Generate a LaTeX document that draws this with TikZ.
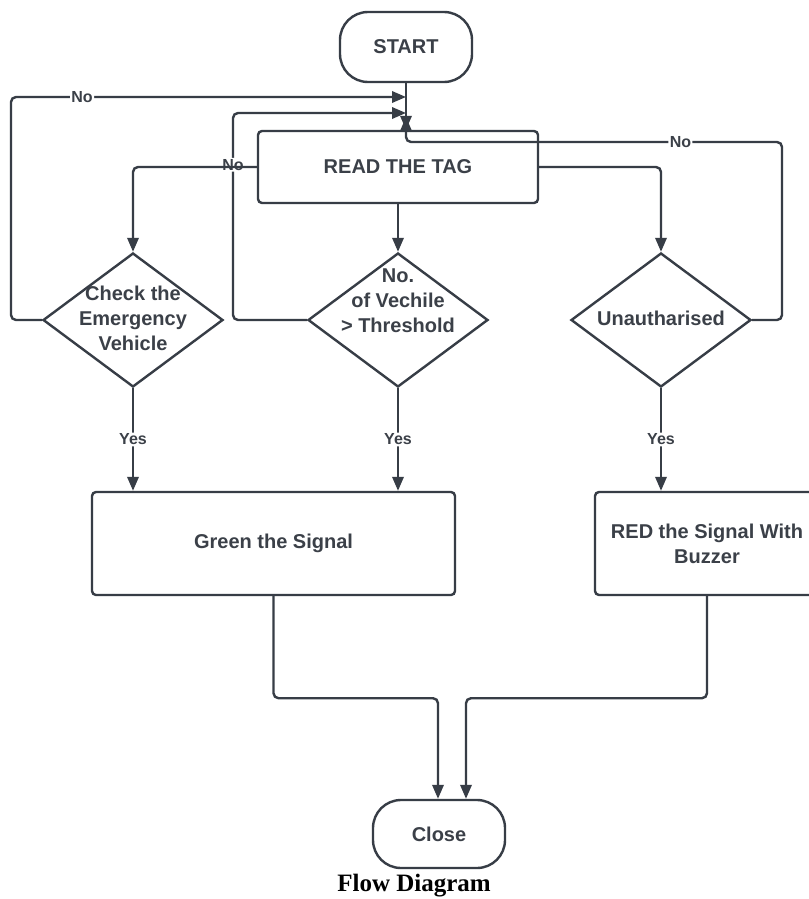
\documentclass[tikz,border=0pt]{standalone}
\usepackage{fontspec}
\setmainfont{Liberation Sans}
\newfontfamily\capfont{Liberation Serif}
\usetikzlibrary{arrows.meta,shapes.geometric,calc}
\definecolor{ln}{HTML}{373D46}
\definecolor{tx}{HTML}{3B4048}
\begin{document}
\begin{tikzpicture}[x=0.75pt,y=-0.75pt,
  every node/.style={font=\fontsize{15pt}{18.75pt}\selectfont\bfseries, text=tx},
  term/.style={draw=ln, line width=1.8pt, rounded corners=21pt, minimum width=99pt, minimum height=52.5pt, fill=white, inner sep=0pt},
  box/.style={draw=ln, line width=1.8pt, rounded corners=3pt, fill=white, inner sep=0pt, align=center},
  dia/.style={draw=ln, line width=1.8pt, diamond, inner sep=0pt, minimum width=135pt, minimum height=100.5pt},
  conn/.style={draw=ln, line width=1.8pt, rounded corners=3.75pt},
  arr/.style={conn, -{Triangle[length=10.5pt,width=8.5pt]}},
  lab/.style={fill=white, inner sep=1pt, font=\fontsize{12pt}{13.5pt}\selectfont\bfseries}]
\useasboundingbox (0,0) rectangle (809,899);
\clip (0,0) rectangle (809,899);
\fill[white] (0,0) rectangle (809,899);

% nodes
\node[term] (start) at (406,47) {START};
\node[box, minimum width=210pt, minimum height=54pt] (read) at (398,167) {READ THE TAG};
\node[dia] (d1) at (133,320) {};
\node[dia] (d2) at (398,320) {};
\node[dia] (d3) at (661,320) {};
\node[align=center] (t1) at (133,318) {Check the\\Emergency\\Vehicle};
\node[align=center] (t2) at (398,301) {No.\\of Vechile\\> Threshold};
\node (t3) at (661,318) {Unautharised};
\node[box, minimum width=272.25pt, minimum height=77.25pt] (green) at (273.5,543.5) {Green the Signal};
\node[box, minimum width=168pt, minimum height=77.25pt] (red) at (707,543.5) {RED the Signal With\\Buzzer};
\node[term, minimum height=51pt] (close) at (439,834) {Close};
\node[font=\capfont\fontsize{18.75pt}{20pt}\selectfont\bfseries, text=black] (cap) at (414,886) {Flow Diagram};

% merge points
\coordinate (m1) at (406,97);
\coordinate (m2) at (406,113);
\coordinate (m3) at (406,117);

% connectors
\draw[arr] (start.south) -- (start.south |- read.north);
\draw[arr] (d1.west) -- (11,320) -- (11,97) -- node[lab,pos=0.18]{No} (m1);
\draw[arr] (d2.west) -- (233,320) -- node[lab,pos=0.75]{No} (233,113) -- (m2);
\draw[arr] (d3.east) -- (782,320) -- (782,142) -- node[lab,pos=0.27]{No} (406,142) -- (m3);
\draw[arr] (read.west) -- (d1.north |- read.west) -- (d1.north);
\draw[arr] (read.south) -- (d2.north);
\draw[arr] (read.east) -- (d3.north |- read.east) -- (d3.north);
\draw[arr] (d1.south) -- node[lab]{Yes} (d1.south |- green.north);
\draw[arr] (d2.south) -- node[lab]{Yes} (d2.south |- green.north);
\draw[arr] (d3.south) -- node[lab]{Yes} (d3.south |- red.north);
\draw[arr] (green.south) -- ++(0,102) -| ([xshift=-0.75pt]close.north);
\draw[arr] (red.south) -- ++(0,102) -| ([xshift=20.25pt]close.north);
\end{tikzpicture}
\end{document}
